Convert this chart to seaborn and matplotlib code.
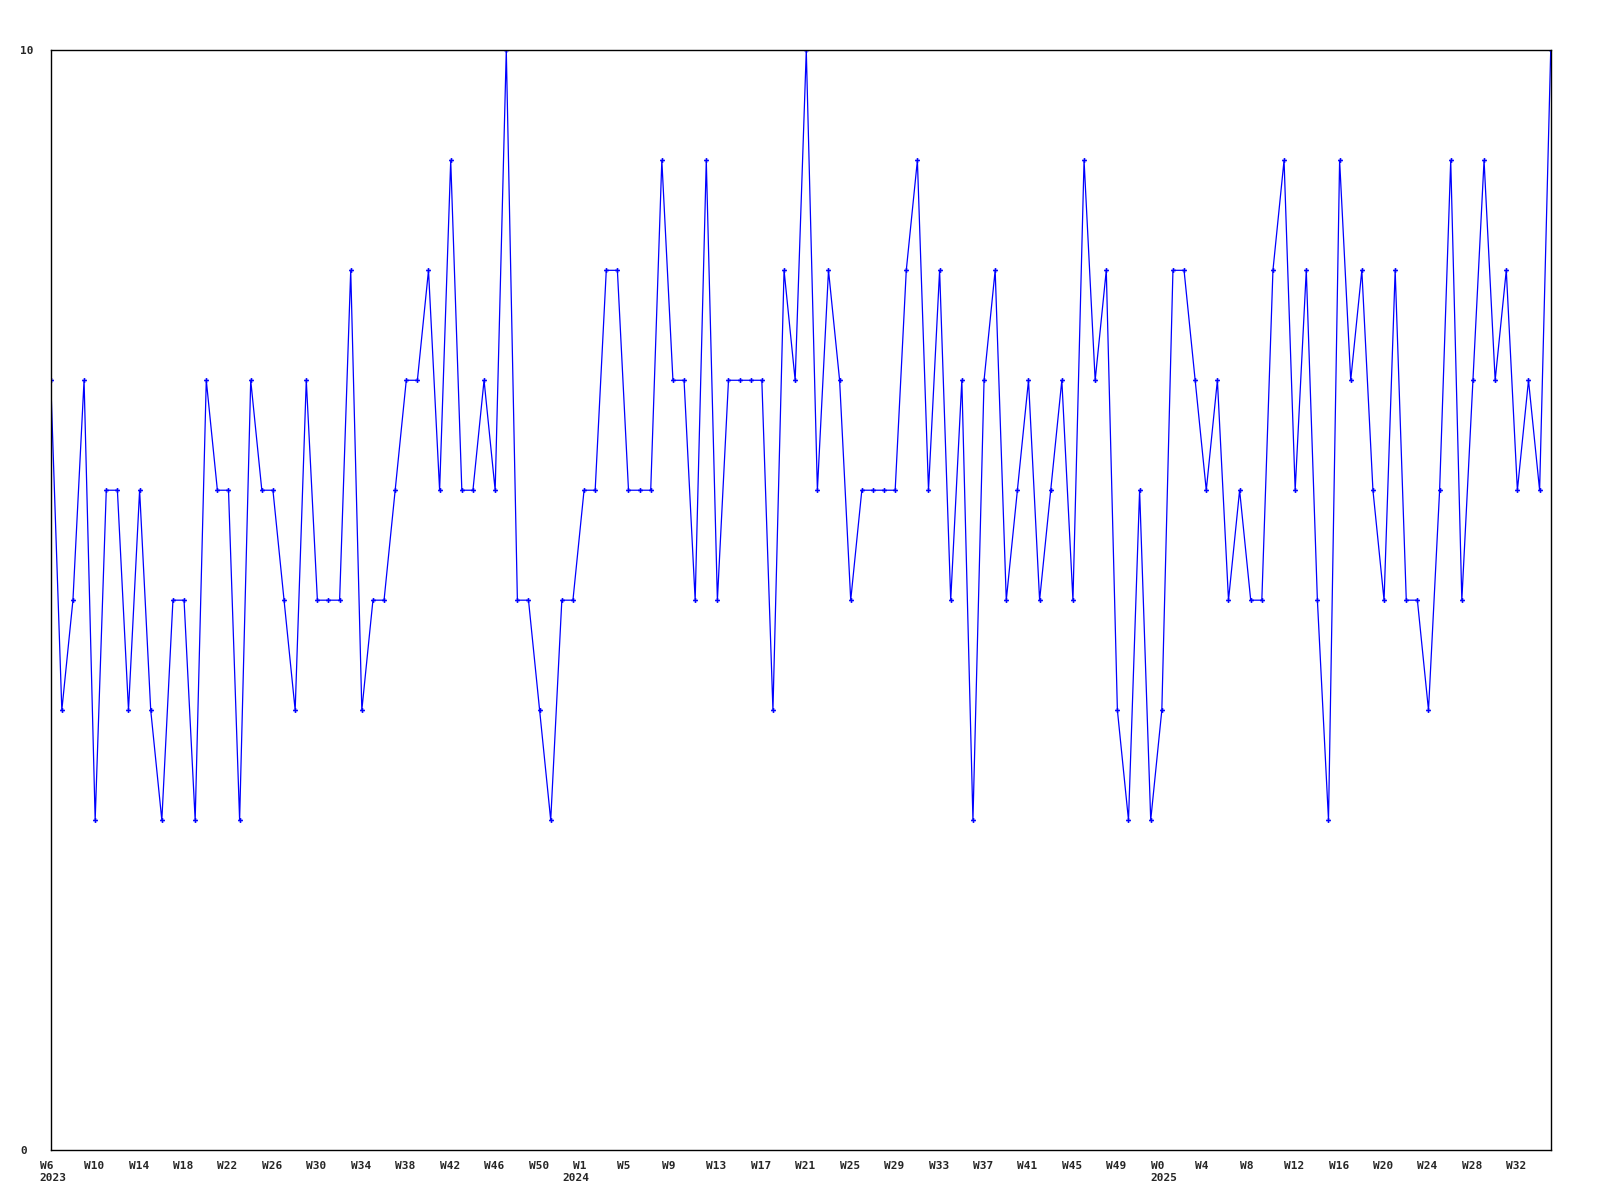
import pandas as pd
import matplotlib
matplotlib.use('Agg')
import matplotlib.pyplot as plt
import matplotlib.transforms as mtransforms
import seaborn as sns

# valores semanais (uma leitura por semana, de W6 2023 até ~W35 2025)
valores = [
    7, 4, 5, 7, 3, 6, 6, 4, 6, 4,
    3, 5, 5, 3, 7, 6, 6, 3, 7, 6,
    6, 5, 4, 7, 5, 5, 5, 8, 4, 5,
    5, 6, 7, 7, 8, 6, 9, 6, 6, 7,
    6, 10, 5, 5, 4, 3, 5, 5, 6, 6,
    8, 8, 6, 6, 6, 9, 7, 7, 5, 9,
    5, 7, 7, 7, 7, 4, 8, 7, 10, 6,
    8, 7, 5, 6, 6, 6, 6, 8, 9, 6,
    8, 5, 7, 3, 7, 8, 5, 6, 7, 5,
    6, 7, 5, 9, 7, 8, 4, 3, 6, 3,
    4, 8, 8, 7, 6, 7, 5, 6, 5, 5,
    8, 9, 6, 8, 5, 3, 9, 7, 8, 6,
    5, 8, 5, 5, 4, 6, 9, 5, 7, 9,
    7, 8, 6, 7, 6, 10,
]

# rótulos do eixo x (a cada 4 semanas)
semanas = ['W6', 'W10', 'W14', 'W18', 'W22', 'W26', 'W30', 'W34', 'W38', 'W42', 'W46', 'W50',
           'W1', 'W5', 'W9', 'W13', 'W17', 'W21', 'W25', 'W29', 'W33', 'W37', 'W41', 'W45', 'W49',
           'W0', 'W4', 'W8', 'W12', 'W16', 'W20', 'W24', 'W28', 'W32']
anos = ['2023', '2024', '2025']
inicio_ano = [0, 47, 100]  # índice da semana onde cada ano começa

df = pd.DataFrame({'semana': range(len(valores)), 'valor': valores})
posicoes = list(range(0, 4 * len(semanas), 4))

sns.set_style('white')
plt.rcParams['font.family'] = ['DejaVu Sans Mono', 'DejaVu Sans']
plt.rcParams['font.weight'] = 'bold'

fig = plt.figure(figsize=(16, 12), dpi=100)
ax = fig.add_axes([0.0317, 0.0417, 0.9375, 0.9163])

sns.lineplot(data=df, x='semana', y='valor', ax=ax, color='#0000ff',
             linewidth=0.9, marker='P', markersize=3.5, markeredgewidth=0)

ax.set_xlim(0, len(valores) - 1)
ax.set_ylim(0, 10)
ax.set_xlabel('')
ax.set_ylabel('')

# anos como ticks menores (não descartar os que coincidem com os maiores)
ax.xaxis.remove_overlapping_locs = False
ax.set_xticks(posicoes)
ax.set_xticklabels(semanas, fontsize=8, fontweight='bold')
ax.set_xticks(inicio_ano, minor=True)
ax.set_xticklabels(anos, minor=True, fontsize=8, fontweight='bold')
ax.set_yticks([0, 10])
ax.set_yticklabels(['0', '10'], fontsize=8, fontweight='bold')
ax.tick_params(axis='x', which='major', length=0, pad=8)
ax.tick_params(axis='x', which='minor', length=0, pad=16.5)
ax.tick_params(axis='y', length=0, pad=22)

desloc = mtransforms.ScaledTranslation(-11 / 100, 0, fig.dpi_scale_trans)
for lbl in ax.get_xticklabels() + ax.get_xticklabels(minor=True):
    lbl.set_horizontalalignment('left')
    lbl.set_verticalalignment('top')
    lbl.set_transform(lbl.get_transform() + desloc)
for lbl in ax.get_yticklabels():
    lbl.set_horizontalalignment('left')

for sp in ax.spines.values():
    sp.set_visible(True)
    sp.set_color('black')
    sp.set_linewidth(1)
ax.grid(False)

fig.savefig('out.png', dpi=100, facecolor='white')
